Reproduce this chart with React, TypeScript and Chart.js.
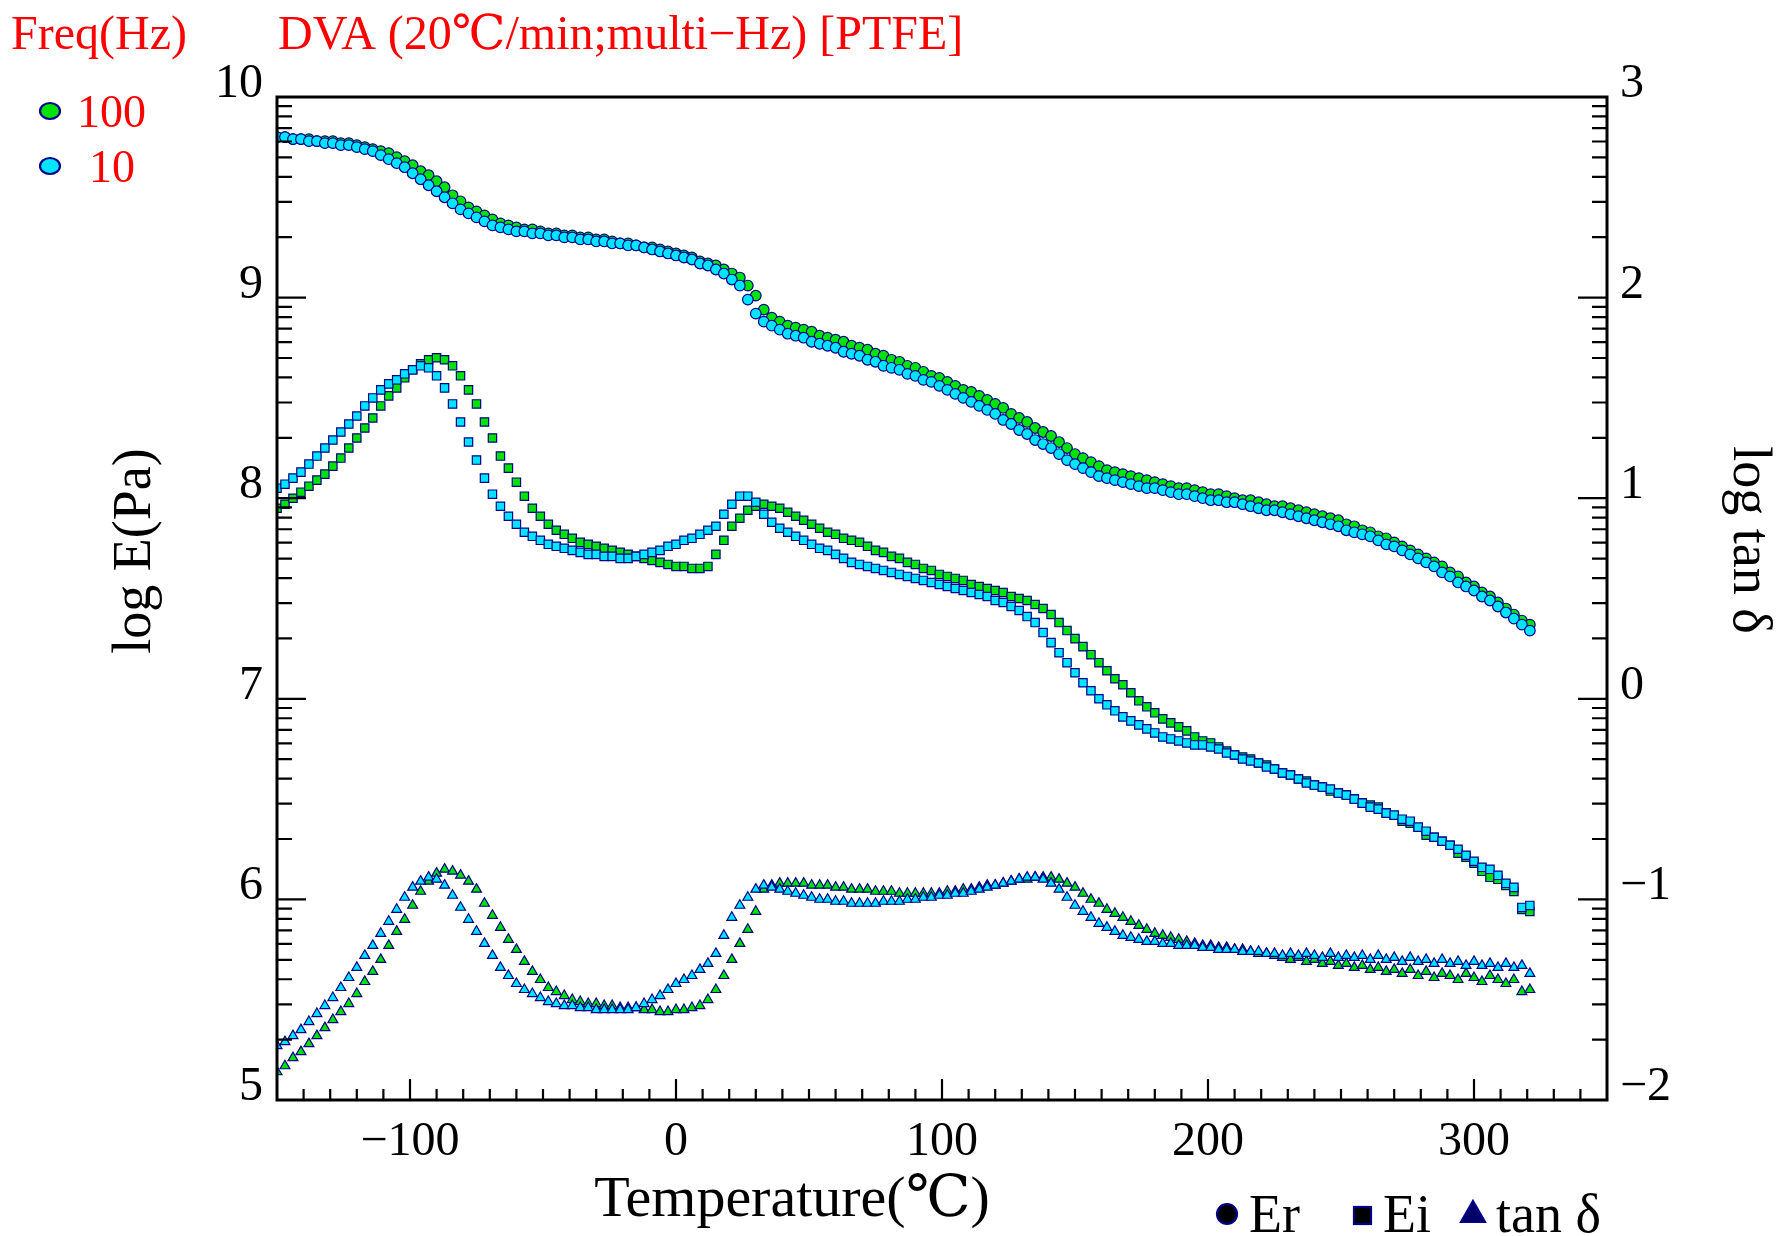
import React, { useEffect, useRef } from 'react';
import { Chart, registerables } from 'chart.js';

Chart.register(...registerables);

// ---------------- data ----------------
const temperatures = [
  -150, -147, -144, -141, -138, -135, -132, -129, -126, -123,
  -120, -117, -114, -111, -108, -105, -102, -99, -96, -93,
  -90, -87, -84, -81, -78, -75, -72, -69, -66, -63,
  -60, -57, -54, -51, -48, -45, -42, -39, -36, -33,
  -30, -27, -24, -21, -18, -15, -12, -9, -6, -3,
  0, 3, 6, 9, 12, 15, 18, 21, 24, 27,
  30, 33, 36, 39, 42, 45, 48, 51, 54, 57,
  60, 63, 66, 69, 72, 75, 78, 81, 84, 87,
  90, 93, 96, 99, 102, 105, 108, 111, 114, 117,
  120, 123, 126, 129, 132, 135, 138, 141, 144, 147,
  150, 153, 156, 159, 162, 165, 168, 171, 174, 177,
  180, 183, 186, 189, 192, 195, 198, 201, 204, 207,
  210, 213, 216, 219, 222, 225, 228, 231, 234, 237,
  240, 243, 246, 249, 252, 255, 258, 261, 264, 267,
  270, 273, 276, 279, 282, 285, 288, 291, 294, 297,
  300, 303, 306, 309, 312, 315, 318, 321,
];

// log E' (Pa), 100 Hz
const er100Hz = [
  9.80, 9.80, 9.79, 9.79, 9.79, 9.78, 9.78, 9.78, 9.77, 9.77,
  9.76, 9.75, 9.74, 9.73, 9.72, 9.70, 9.68, 9.66, 9.63, 9.61,
  9.58, 9.55, 9.51, 9.48, 9.45, 9.43, 9.41, 9.39, 9.37, 9.36,
  9.35, 9.34, 9.34, 9.33, 9.32, 9.32, 9.31, 9.31, 9.30, 9.30,
  9.29, 9.29, 9.28, 9.27, 9.27, 9.26, 9.25, 9.25, 9.24, 9.23,
  9.22, 9.21, 9.20, 9.18, 9.17, 9.16, 9.14, 9.12, 9.10, 9.06,
  9.01, 8.94, 8.90, 8.88, 8.86, 8.85, 8.84, 8.83, 8.81, 8.80,
  8.79, 8.78, 8.76, 8.75, 8.74, 8.72, 8.71, 8.69, 8.68, 8.66,
  8.65, 8.63, 8.61, 8.60, 8.58, 8.56, 8.54, 8.53, 8.51, 8.49,
  8.47, 8.45, 8.42, 8.40, 8.38, 8.35, 8.33, 8.31, 8.28, 8.25,
  8.22, 8.20, 8.18, 8.16, 8.14, 8.13, 8.12, 8.11, 8.10, 8.09,
  8.08, 8.07, 8.06, 8.05, 8.05, 8.04, 8.03, 8.02, 8.02, 8.01,
  8.00, 7.99, 7.99, 7.98, 7.97, 7.96, 7.96, 7.95, 7.94, 7.93,
  7.92, 7.91, 7.90, 7.89, 7.87, 7.86, 7.84, 7.83, 7.81, 7.80,
  7.78, 7.76, 7.74, 7.72, 7.70, 7.68, 7.66, 7.63, 7.61, 7.58,
  7.56, 7.53, 7.51, 7.48, 7.45, 7.42, 7.39, 7.37,
];

// log E' (Pa), 10 Hz
const er10Hz = [
  9.80, 9.80, 9.79, 9.79, 9.78, 9.78, 9.77, 9.77, 9.76, 9.76,
  9.75, 9.74, 9.73, 9.71, 9.69, 9.67, 9.65, 9.62, 9.59, 9.56,
  9.53, 9.50, 9.47, 9.44, 9.42, 9.40, 9.38, 9.36, 9.35, 9.34,
  9.33, 9.33, 9.32, 9.32, 9.31, 9.31, 9.30, 9.30, 9.29, 9.29,
  9.28, 9.28, 9.27, 9.27, 9.26, 9.26, 9.25, 9.24, 9.23, 9.22,
  9.21, 9.20, 9.19, 9.17, 9.16, 9.14, 9.12, 9.09, 9.06, 8.99,
  8.92, 8.88, 8.86, 8.84, 8.82, 8.81, 8.80, 8.78, 8.77, 8.76,
  8.75, 8.73, 8.72, 8.71, 8.69, 8.68, 8.66, 8.65, 8.64, 8.62,
  8.61, 8.59, 8.58, 8.56, 8.54, 8.52, 8.50, 8.48, 8.46, 8.44,
  8.42, 8.39, 8.37, 8.34, 8.32, 8.29, 8.27, 8.25, 8.22, 8.19,
  8.17, 8.15, 8.13, 8.11, 8.10, 8.09, 8.08, 8.07, 8.06, 8.05,
  8.05, 8.04, 8.03, 8.02, 8.02, 8.01, 8.00, 7.99, 7.99, 7.98,
  7.98, 7.97, 7.96, 7.95, 7.94, 7.94, 7.93, 7.92, 7.91, 7.90,
  7.89, 7.88, 7.87, 7.86, 7.84, 7.83, 7.82, 7.81, 7.79, 7.77,
  7.76, 7.74, 7.72, 7.70, 7.68, 7.66, 7.63, 7.61, 7.58, 7.56,
  7.54, 7.51, 7.49, 7.46, 7.43, 7.40, 7.37, 7.34,
];

// log E'' (Pa), 100 Hz
const ei100Hz = [
  7.95, 7.97, 8.00, 8.03, 8.06, 8.09, 8.12, 8.16, 8.20, 8.25,
  8.30, 8.35, 8.40, 8.46, 8.51, 8.55, 8.60, 8.64, 8.67, 8.69,
  8.70, 8.69, 8.66, 8.61, 8.54, 8.47, 8.38, 8.30, 8.21, 8.15,
  8.08, 8.01, 7.95, 7.91, 7.87, 7.84, 7.82, 7.80, 7.78, 7.77,
  7.76, 7.75, 7.74, 7.73, 7.72, 7.71, 7.70, 7.69, 7.68, 7.67,
  7.66, 7.66, 7.65, 7.65, 7.66, 7.72, 7.79, 7.86, 7.90, 7.94,
  7.96, 7.97, 7.96, 7.95, 7.93, 7.91, 7.89, 7.87, 7.85, 7.83,
  7.82, 7.80, 7.79, 7.78, 7.76, 7.74, 7.73, 7.71, 7.70, 7.68,
  7.67, 7.65, 7.64, 7.62, 7.61, 7.60, 7.59, 7.57, 7.56, 7.55,
  7.54, 7.53, 7.51, 7.50, 7.49, 7.47, 7.45, 7.42, 7.38, 7.34,
  7.30, 7.26, 7.22, 7.18, 7.14, 7.10, 7.07, 7.03, 6.99, 6.96,
  6.93, 6.90, 6.88, 6.86, 6.84, 6.81, 6.79, 6.78, 6.76, 6.74,
  6.72, 6.71, 6.70, 6.68, 6.67, 6.65, 6.63, 6.62, 6.60, 6.59,
  6.57, 6.56, 6.54, 6.53, 6.52, 6.50, 6.48, 6.47, 6.46, 6.43,
  6.42, 6.39, 6.38, 6.36, 6.32, 6.31, 6.29, 6.27, 6.23, 6.21,
  6.18, 6.14, 6.11, 6.10, 6.07, 6.04, 5.95, 5.94,
];

// log E'' (Pa), 10 Hz
const ei10Hz = [
  8.05, 8.07, 8.10, 8.13, 8.17, 8.21, 8.25, 8.29, 8.33, 8.37,
  8.41, 8.46, 8.50, 8.54, 8.57, 8.59, 8.62, 8.64, 8.66, 8.65,
  8.61, 8.55, 8.47, 8.38, 8.28, 8.19, 8.10, 8.02, 7.96, 7.91,
  7.87, 7.83, 7.81, 7.79, 7.77, 7.76, 7.75, 7.74, 7.73, 7.72,
  7.72, 7.71, 7.71, 7.70, 7.70, 7.71, 7.72, 7.73, 7.74, 7.76,
  7.77, 7.79, 7.80, 7.82, 7.84, 7.86, 7.92, 7.97, 8.01, 8.01,
  7.98, 7.92, 7.88, 7.85, 7.83, 7.81, 7.79, 7.77, 7.75, 7.74,
  7.72, 7.70, 7.68, 7.67, 7.66, 7.65, 7.64, 7.63, 7.62, 7.61,
  7.60, 7.59, 7.58, 7.57, 7.56, 7.55, 7.54, 7.53, 7.52, 7.51,
  7.49, 7.48, 7.46, 7.44, 7.41, 7.38, 7.33, 7.28, 7.23, 7.18,
  7.13, 7.08, 7.04, 7.00, 6.97, 6.94, 6.91, 6.89, 6.87, 6.85,
  6.83, 6.81, 6.80, 6.79, 6.78, 6.77, 6.77, 6.76, 6.75, 6.73,
  6.72, 6.70, 6.69, 6.68, 6.66, 6.65, 6.63, 6.62, 6.60, 6.58,
  6.57, 6.56, 6.55, 6.53, 6.52, 6.50, 6.48, 6.46, 6.45, 6.43,
  6.42, 6.40, 6.39, 6.36, 6.34, 6.31, 6.29, 6.27, 6.25, 6.22,
  6.19, 6.16, 6.15, 6.12, 6.08, 6.06, 5.96, 5.97,
];

// log tan δ, 100 Hz
const tan100Hz = [
  -1.86, -1.83, -1.79, -1.76, -1.72, -1.68, -1.64, -1.60, -1.56, -1.52,
  -1.47, -1.41, -1.36, -1.30, -1.23, -1.16, -1.10, -1.03, -0.96, -0.91,
  -0.87, -0.85, -0.86, -0.88, -0.91, -0.95, -1.02, -1.08, -1.14, -1.20,
  -1.25, -1.31, -1.36, -1.40, -1.44, -1.46, -1.48, -1.50, -1.51, -1.52,
  -1.52, -1.53, -1.53, -1.54, -1.54, -1.54, -1.55, -1.55, -1.56, -1.56,
  -1.55, -1.55, -1.54, -1.53, -1.50, -1.45, -1.38, -1.30, -1.22, -1.15,
  -1.06, -0.95, -0.93, -0.92, -0.92, -0.92, -0.92, -0.93, -0.93, -0.93,
  -0.94, -0.94, -0.95, -0.95, -0.95, -0.96, -0.96, -0.96, -0.97, -0.97,
  -0.97, -0.97, -0.97, -0.97, -0.96, -0.96, -0.95, -0.95, -0.94, -0.93,
  -0.93, -0.92, -0.91, -0.90, -0.90, -0.89, -0.89, -0.89, -0.90, -0.92,
  -0.94, -0.97, -1.00, -1.02, -1.05, -1.07, -1.09, -1.11, -1.13, -1.15,
  -1.17, -1.18, -1.19, -1.20, -1.21, -1.22, -1.23, -1.23, -1.24, -1.24,
  -1.25, -1.25, -1.26, -1.27, -1.27, -1.28, -1.29, -1.30, -1.29, -1.31,
  -1.30, -1.32, -1.31, -1.33, -1.32, -1.34, -1.33, -1.35, -1.34, -1.36,
  -1.35, -1.37, -1.35, -1.38, -1.36, -1.39, -1.37, -1.38, -1.40, -1.37,
  -1.39, -1.41, -1.38, -1.40, -1.42, -1.40, -1.46, -1.45,
];

// log tan δ, 10 Hz
const tan10Hz = [
  -1.73, -1.71, -1.68, -1.65, -1.61, -1.57, -1.53, -1.49, -1.44, -1.39,
  -1.34, -1.28, -1.23, -1.17, -1.11, -1.05, -0.99, -0.94, -0.91, -0.89,
  -0.90, -0.93, -0.98, -1.04, -1.10, -1.16, -1.22, -1.28, -1.34, -1.38,
  -1.42, -1.45, -1.47, -1.49, -1.51, -1.52, -1.53, -1.53, -1.54, -1.54,
  -1.55, -1.55, -1.55, -1.55, -1.55, -1.54, -1.52, -1.50, -1.48, -1.45,
  -1.42, -1.40, -1.38, -1.35, -1.32, -1.27, -1.18, -1.09, -1.03, -0.99,
  -0.95, -0.93, -0.94, -0.95, -0.96, -0.97, -0.98, -0.99, -1.00, -1.00,
  -1.01, -1.01, -1.02, -1.02, -1.02, -1.02, -1.01, -1.01, -1.01, -1.00,
  -1.00, -0.99, -0.99, -0.98, -0.98, -0.97, -0.97, -0.96, -0.95, -0.94,
  -0.93, -0.92, -0.91, -0.90, -0.89, -0.89, -0.90, -0.92, -0.95, -0.99,
  -1.03, -1.06, -1.09, -1.12, -1.14, -1.16, -1.18, -1.19, -1.20, -1.21,
  -1.21, -1.22, -1.22, -1.23, -1.23, -1.23, -1.24, -1.24, -1.25, -1.25,
  -1.25, -1.26, -1.26, -1.26, -1.27, -1.27, -1.28, -1.27, -1.28, -1.27,
  -1.28, -1.29, -1.27, -1.29, -1.28, -1.29, -1.28, -1.30, -1.28, -1.30,
  -1.29, -1.31, -1.29, -1.31, -1.30, -1.32, -1.30, -1.32, -1.31, -1.33,
  -1.31, -1.33, -1.32, -1.34, -1.32, -1.34, -1.33, -1.37,
];

// axis ticks and labels
const xMajorTicks = [-100, 0, 100, 200, 300];
const xTickLabels = ['\u2212100', '0', '100', '200', '300'];
const leftTicks = [5, 6, 7, 8, 9, 10];
const leftTickLabels = ['5', '6', '7', '8', '9', '10'];
const rightTicks = [-2, -1, 0, 1, 2, 3];
const rightTickLabels = ['\u22122', '\u22121', '0', '1', '2', '3'];

const titleText = 'DVA (20\u2103/min;multi\u2212Hz) [PTFE]';
const freqTitle = 'Freq(Hz)';
const freqLabels = ['100', '10'];
const xTitle = 'Temperature(\u2103)';
const yLeftTitle = 'log E(Pa)';
const yRightTitle = 'log tan \u03b4';

// ---------------- styles ----------------
const FONT = '"Liberation Serif", "DejaVu Serif", "Noto Sans CJK JP", serif';
const GREEN = '#00e200';
const CYAN = '#00e4ff';
const EDGE = '#000088';
const RED = '#ff0000';

const toPoints = (vals: number[]) => temperatures.map((t, i) => ({ x: t, y: vals[i] }));

function markerDs(label: string, vals: number[], axis: string, style: string, fill: string, radius: number) {
  return {
    label,
    data: toPoints(vals),
    yAxisID: axis,
    showLine: false,
    pointStyle: style,
    pointRadius: radius,
    pointBackgroundColor: fill,
    pointBorderColor: EDGE,
    pointBorderWidth: 1.2,
    backgroundColor: fill,
    borderColor: EDGE,
  };
}

const decorPlugin = {
  id: 'decor',
  afterDraw(chart: any) {
    const { ctx, chartArea: a, scales } = chart;
    const sx = scales.x;
    const sl = scales.y;
    const sr = scales.y2;
    ctx.save();
    ctx.strokeStyle = '#000';
    ctx.fillStyle = '#000';

    // ticks
    ctx.lineWidth = 2.2;
    ctx.beginPath();
    for (let v = -140; v < 350; v += 10) {
      const px = sx.getPixelForValue(v);
      const len = xMajorTicks.includes(v) ? 21 : 11;
      ctx.moveTo(px, a.bottom);
      ctx.lineTo(px, a.bottom - len);
    }
    for (let d = 5; d < 10; d++) {
      for (let k = 1; k <= 9; k++) {
        const v = d + Math.log10(k);
        if (v <= 5) continue;
        const py = sl.getPixelForValue(v);
        const len = k === 1 ? 29 : 15;
        ctx.moveTo(a.left, py);
        ctx.lineTo(a.left + len, py);
      }
    }
    for (let d = -2; d < 3; d++) {
      for (let k = 1; k <= 9; k++) {
        const v = d + Math.log10(k);
        if (v <= -2) continue;
        const py = sr.getPixelForValue(v);
        const len = k === 1 ? 29 : 15;
        ctx.moveTo(a.right, py);
        ctx.lineTo(a.right - len, py);
      }
    }
    ctx.stroke();

    // frame
    ctx.lineWidth = 3;
    ctx.strokeRect(a.left, a.top, a.right - a.left, a.bottom - a.top);

    // tick labels
    ctx.font = `48px ${FONT}`;
    ctx.textBaseline = 'alphabetic';
    ctx.textAlign = 'right';
    leftTicks.forEach((v, i) => ctx.fillText(leftTickLabels[i], a.left - 14, sl.getPixelForValue(v)));
    ctx.textAlign = 'left';
    rightTicks.forEach((v, i) => ctx.fillText(rightTickLabels[i], a.right + 13, sr.getPixelForValue(v)));
    ctx.textAlign = 'center';
    xMajorTicks.forEach((v, i) => ctx.fillText(xTickLabels[i], sx.getPixelForValue(v), a.bottom + 55));

    // axis titles
    ctx.font = `58px ${FONT}`;
    ctx.textAlign = 'center';
    ctx.fillText(xTitle, (a.left + a.right) / 2 - 150, a.bottom + 116);

    ctx.font = `54px ${FONT}`;
    ctx.save();
    ctx.translate(150, 551);
    ctx.rotate(-Math.PI / 2);
    ctx.fillText(yLeftTitle, 0, 0);
    ctx.restore();

    ctx.save();
    ctx.translate(1734, 540);
    ctx.rotate(Math.PI / 2);
    ctx.fillText(yRightTitle, 0, 0);
    ctx.restore();

    // top texts
    ctx.fillStyle = RED;
    ctx.font = `48px ${FONT}`;
    ctx.textAlign = 'left';
    ctx.fillText(freqTitle, 11, 49);
    ctx.fillText(titleText, 278, 49);

    // frequency legend
    const fills = [GREEN, CYAN];
    const ys = [111, 166];
    const textX = [77, 89];
    ctx.font = `46px ${FONT}`;
    freqLabels.forEach((lab, i) => {
      ctx.beginPath();
      ctx.ellipse(50, ys[i], 10, 8, 0, 0, Math.PI * 2);
      ctx.fillStyle = fills[i];
      ctx.fill();
      ctx.lineWidth = 2.2;
      ctx.strokeStyle = EDGE;
      ctx.stroke();
      ctx.fillStyle = RED;
      ctx.fillText(lab, textX[i], ys[i] + 16);
    });

    // quantity legend (bottom right)
    ctx.lineWidth = 2.2;
    ctx.strokeStyle = EDGE;
    ctx.fillStyle = '#000';
    ctx.beginPath();
    ctx.arc(1227, 1214, 10, 0, Math.PI * 2);
    ctx.fill();
    ctx.stroke();
    ctx.fillStyle = '#000';
    ctx.fillRect(1354, 1207, 17, 17);
    ctx.strokeRect(1354, 1207, 17, 17);
    ctx.beginPath();
    ctx.moveTo(1473, 1201);
    ctx.lineTo(1485, 1222);
    ctx.lineTo(1461, 1222);
    ctx.closePath();
    ctx.fillStyle = '#000066';
    ctx.fill();
    ctx.stroke();

    ctx.fillStyle = '#000';
    ctx.font = `54px ${FONT}`;
    ctx.textAlign = 'left';
    ctx.fillText('Er', 1249, 1232);
    ctx.fillText('Ei', 1383, 1232);
    ctx.fillText('tan \u03b4', 1496, 1232);

    ctx.restore();
  },
};

export default function App() {
  const canvasRef = useRef<HTMLCanvasElement | null>(null);

  useEffect(() => {
    const canvas = canvasRef.current;
    if (!canvas) return;
    const datasets = [
      markerDs('Er 10 Hz', er10Hz, 'y', 'circle', CYAN, 5.3),
      markerDs('Ei 10 Hz', ei10Hz, 'y', 'rect', CYAN, 5.9),
      markerDs('tan δ 10 Hz', tan10Hz, 'y2', 'triangle', CYAN, 5.7),
      markerDs('Er 100 Hz', er100Hz, 'y', 'circle', GREEN, 5.3),
      markerDs('Ei 100 Hz', ei100Hz, 'y', 'rect', GREEN, 5.9),
      markerDs('tan δ 100 Hz', tan100Hz, 'y2', 'triangle', GREEN, 5.7),
    ];
    const chart = new Chart(canvas, {
      type: 'scatter',
      data: { datasets } as any,
      options: {
        animation: false,
        responsive: false,
        devicePixelRatio: 1,
        events: [],
        layout: { padding: { left: 277, top: 97, right: 173, bottom: 136 } },
        plugins: {
          legend: { display: false },
          tooltip: { enabled: false },
          title: { display: false },
        },
        scales: {
          x: { type: 'linear', min: -150, max: 350, display: false },
          y: { type: 'linear', min: 5, max: 10, display: false, position: 'left' },
          y2: { type: 'linear', min: -2, max: 3, display: false, position: 'right' },
        },
      } as any,
      plugins: [decorPlugin],
    });
    return () => chart.destroy();
  }, []);

  return (
    <div style={{ position: 'absolute', left: 0, top: 0, width: 1780, height: 1236, background: '#fff' }}>
      <canvas ref={canvasRef} width={1780} height={1236} style={{ display: 'block' }} />
    </div>
  );
}
